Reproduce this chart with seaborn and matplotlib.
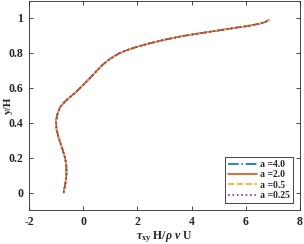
import matplotlib
matplotlib.use("Agg")
import matplotlib.pyplot as plt
import seaborn as sns
import pandas as pd

# ---- data ----
y_over_h = [0.0, 0.05, 0.10, 0.15, 0.20, 0.26, 0.32, 0.37, 0.41, 0.45, 0.49, 0.525,
            0.575, 0.635, 0.697, 0.735, 0.767, 0.795, 0.815, 0.834, 0.855, 0.877, 0.897,
            0.912, 0.927, 0.942, 0.956, 0.967, 0.976, 0.988]
tau_a40 = [-0.72, -0.66, -0.62, -0.62, -0.67, -0.79, -0.92, -0.99, -1.00, -0.95, -0.85, -0.65,
           -0.27, 0.12, 0.50, 0.74, 1.00, 1.30, 1.60, 1.97, 2.46, 3.05, 3.69,
           4.30, 4.93, 5.55, 6.15, 6.50, 6.70, 6.85]
tau_a20 = list(tau_a40)
tau_a05 = list(tau_a40)
tau_a025 = list(tau_a40)
labels = ["a =4.0", "a =2.0", "a =0.5", "a =0.25"]
colors = ["#0072BD", "#D95319", "#EDB120", "#7E2F8E"]
styles = ["-.", "-", "--", ":"]
x_ticks = [-2, 0, 2, 4, 6, 8]
y_ticks = [0, 0.2, 0.4, 0.6, 0.8, 1]

sns.set_theme(style="ticks")
plt.rcParams["font.family"] = ["Liberation Serif", "DejaVu Serif"]
plt.rcParams["font.weight"] = "bold"
plt.rcParams["mathtext.fontset"] = "custom"
plt.rcParams["mathtext.rm"] = "Liberation Serif:bold"
plt.rcParams["mathtext.it"] = "Liberation Serif:italic:bold"
plt.rcParams["mathtext.bf"] = "Liberation Serif:bold"

fig = plt.figure(figsize=(3.04, 2.44), dpi=100)
ax = fig.add_axes([29 / 304, 34 / 244, 271 / 304, 209.5 / 244])

series = [tau_a40, tau_a20, tau_a05, tau_a025]
for tau, lab, c, ls in zip(series, labels, colors, styles):
    df = pd.DataFrame({"tau": tau, "y": y_over_h})
    sns.lineplot(data=df, x="tau", y="y", sort=False, estimator=None, ax=ax,
                 color=c, linestyle=ls, linewidth=1.2, label=lab)

ax.set_xlim(-2, 8)
ax.set_ylim(-0.1, 1.1)
ax.set_xticks(x_ticks)
ax.set_xticklabels([str(v) for v in x_ticks])
ax.set_yticks(y_ticks)
ax.set_yticklabels(["0", "0.2", "0.4", "0.6", "0.8", "1"])
ax.tick_params(direction="in", length=3, width=0.6, labelsize=8.5, colors="#262626",
               top=True, right=True, pad=4)
for sp in ax.spines.values():
    sp.set_linewidth(0.6)
    sp.set_color("#262626")

ax.set_xlabel(r"$\tau_{\mathbf{xy}}$ H/$\rho$ $\nu$ U", fontsize=8.5, fontweight="bold",
              color="#262626", labelpad=1)
ax.set_ylabel("y/H", fontsize=8, fontweight="bold", color="#262626")
ax.yaxis.set_label_coords((12.5 - 29) / 271, 0.5)

leg = ax.legend(loc="lower right", fontsize=7, frameon=True, fancybox=False,
                edgecolor="#262626", framealpha=1, borderpad=0.3, labelspacing=0.15,
                handlelength=3.0, handletextpad=0.3, borderaxespad=0.7)
leg.get_frame().set_linewidth(0.6)
for t in leg.get_texts():
    t.set_fontweight("bold")

fig.savefig("out.png", dpi=100)
